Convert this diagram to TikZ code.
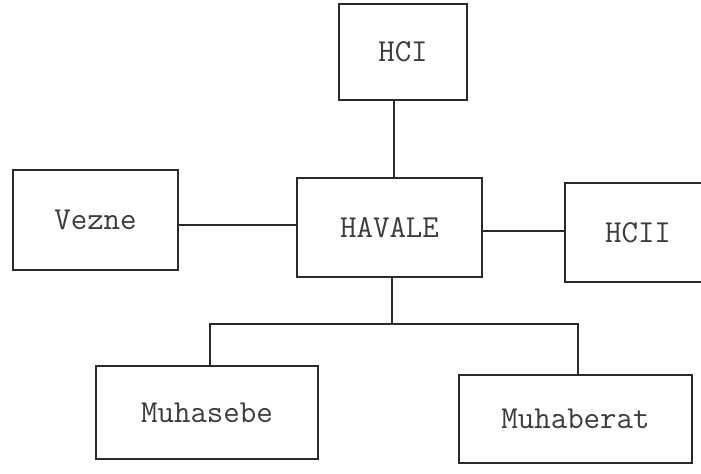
\documentclass[tikz,border=0pt]{standalone}
\usepackage{fontspec}
\begin{document}
\begin{tikzpicture}[x=0.75pt,y=-0.75pt,
  box/.style={draw=ink,line width=1.3pt,rectangle,inner sep=0pt,text=txt,
    font=\fontsize{24}{28}\ttfamily\addfontfeature{LetterSpace=4}},
  link/.style={draw=ink,line width=1.3pt}]
\definecolor{ink}{HTML}{2A2A2A}
\definecolor{txt}{HTML}{3C3C3C}
\useasboundingbox (0,0) rectangle (701,474);
\fill[white] (0,0) rectangle (701,474);
\node[box,minimum width=128*0.75pt,minimum height=96*0.75pt] (hci) at (403,52) {HCI};
\node[box,minimum width=185*0.75pt,minimum height=99*0.75pt] (havale) at (389.5,227.5) {HAVALE};
\node[box,minimum width=165*0.75pt,minimum height=100*0.75pt] (vezne) at (95.5,220) {Vezne};
\node[box,minimum width=146*0.75pt,minimum height=99*0.75pt] (hcii) at (638,232.5) {HCII};
\node[box,minimum width=222*0.75pt,minimum height=93*0.75pt] (muhasebe) at (207,412.5) {Muhasebe};
\node[box,minimum width=233*0.75pt,minimum height=88*0.75pt] (muhaberat) at (575.5,419) {Muhaberat};
\coordinate (top) at (394,0);
\coordinate (trunk) at (392,0);
\coordinate (lv) at (0,225);
\coordinate (rv) at (0,231);
\coordinate (bus) at (0,324);
\coordinate (bl) at (210,0);
\coordinate (br) at (578,0);
\draw[link] (hci.south -| top) -- (havale.north -| top);
\draw[link] (vezne.east |- lv) -- (havale.west |- lv);
\draw[link] (havale.east |- rv) -- (hcii.west |- rv);
\draw[link] (havale.south -| trunk) -- (bus -| trunk);
\draw[link] (muhasebe.north -| bl) -- (bus -| bl) -- (bus -| br) -- (muhaberat.north -| br);
\end{tikzpicture}
\end{document}
